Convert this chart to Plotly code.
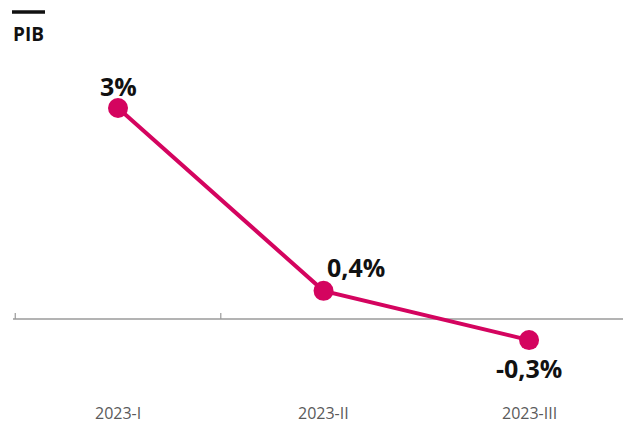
import plotly.graph_objects as go

categories = ["2023-I", "2023-II", "2023-III"]
values = [3.0, 0.4, -0.3]
value_labels = ["3%", "0,4%", "-0,3%"]
title_text = "PIB"

color = "#D4045F"
xs = list(range(len(categories)))

W, H = 623, 423
ML, MR, MT, MB = 13, 0, 60, 63

fig = go.Figure()
fig.add_trace(go.Scatter(
    x=xs, y=values, mode="lines+markers",
    line=dict(color=color, width=4),
    marker=dict(color=color, size=20),
    hoverinfo="skip", cliponaxis=False, showlegend=False,
))

# value labels
offsets = [(0, 22), (32, 24), (0, -28)]
for x, v, t, (dx, dy) in zip(xs, values, value_labels, offsets):
    fig.add_annotation(x=x, y=v, text=f"<b>{t}</b>", showarrow=False,
                       xshift=dx, yshift=dy,
                       font=dict(family="Open Sans", size=25, color="#111111"))

# category labels
for x, c in zip(xs, categories):
    fig.add_annotation(x=x, y=0, text=c, showarrow=False, yshift=-94,
                       font=dict(family="Open Sans", size=16, color="#5a5a5a"))

# baseline
fig.add_shape(type="line", xref="paper", yref="y", x0=0, x1=1, y0=0, y1=0,
              line=dict(color="#9a9a9a", width=1.5), layer="below")
# boundary ticks
for bx in [-0.5, 0.5]:
    fig.add_shape(type="line", xref="x", yref="y", ysizemode="pixel", yanchor=0,
                  x0=bx, x1=bx, y0=0, y1=6,
                  line=dict(color="#9a9a9a", width=1.2), layer="below")

fig.update_layout(
    width=W, height=H,
    margin=dict(l=ML, r=MR, t=MT, b=MB),
    paper_bgcolor="white", plot_bgcolor="white",
    xaxis=dict(range=[-0.511, 2.457], visible=False, fixedrange=True),
    yaxis=dict(range=[-0.583, 3.6825], visible=False, fixedrange=True),
    font=dict(family="Open Sans"),
)

pw = W - ML - MR
ph = H - MT - MB
def px_to_paper(px, py):
    return ((px - ML) / pw, (H - MB - py) / ph)

bx0, by = px_to_paper(12, 12)
bx1, _ = px_to_paper(45, 12)
fig.add_shape(type="line", xref="paper", yref="paper", x0=bx0, x1=bx1, y0=by, y1=by,
              line=dict(color="#111111", width=3.5))
tx, ty = px_to_paper(11, 34)
fig.add_annotation(xref="paper", yref="paper", x=tx, y=ty, xanchor="left", yanchor="middle",
                   text=f"<b>{title_text}</b>", showarrow=False,
                   font=dict(family="Open Sans", size=19, color="#111111"))

fig.write_html("out.html",
               config={"displayModeBar": False, "staticPlot": True},
               post_script=("document.documentElement.style.overflow='hidden';"
                            "document.body.style.margin='0';"
                            "document.body.style.overflow='hidden';"))
